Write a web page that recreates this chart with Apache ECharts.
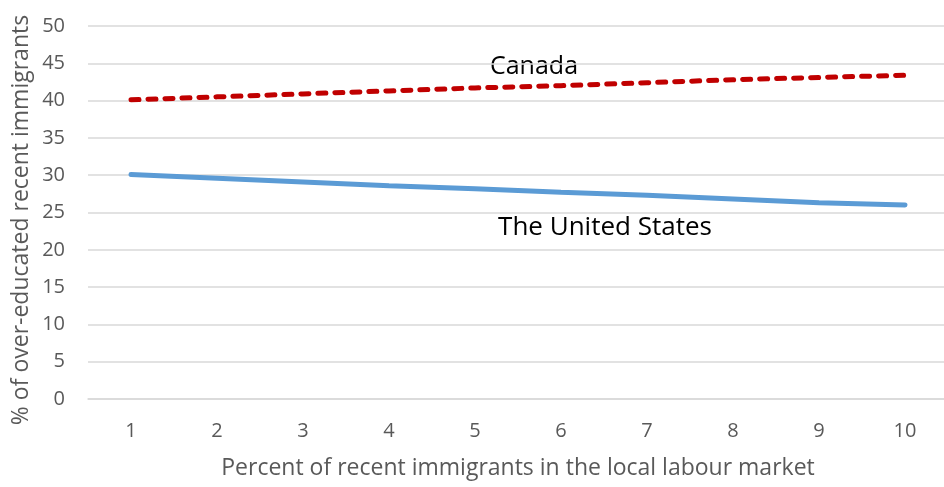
<!DOCTYPE html>
<html><head><meta charset="utf-8">
<script src="https://cdn.jsdelivr.net/npm/echarts@6/dist/echarts.min.js"></script>
<style>html,body{margin:0;padding:0;background:#fff}#c{width:944px;height:487px}</style>
</head><body><div id="c"></div>
<script>
const categories = ['1','2','3','4','5','6','7','8','9','10'];
const canada = [40.1, 40.5, 40.9, 41.3, 41.7, 42.0, 42.4, 42.8, 43.1, 43.4];
const unitedStates = [30.1, 29.6, 29.1, 28.6, 28.2, 27.7, 27.3, 26.8, 26.3, 26.0];
const yTicks = [0, 50, 5];
const xTitle = 'Percent of recent immigrants in the local labour market';
const yTitle = '% of over-educated recent immigrants';

const FONT = '"Open Sans", sans-serif';
const chart = echarts.init(document.getElementById('c'), null, {renderer: 'canvas'});
chart.setOption({
  animation: false,
  grid: {left: 88, right: -4, top: 26, bottom: 88, outerBoundsMode: 'none', containLabel: false},
  xAxis: {
    type: 'category', data: categories, boundaryGap: true,
    axisLine: {lineStyle: {color: '#d9d9d9', width: 1.5}},
    axisTick: {show: false},
    axisLabel: {color: '#595959', fontSize: 20, fontFamily: FONT, margin: 22},
    name: xTitle, nameLocation: 'middle', nameGap: 58,
    nameTextStyle: {color: '#595959', fontSize: 23, fontFamily: FONT}
  },
  yAxis: {
    type: 'value', min: yTicks[0], max: yTicks[1], interval: yTicks[2],
    axisLine: {show: false}, axisTick: {show: false},
    splitLine: {lineStyle: {color: '#d9d9d9', width: 1.5}},
    axisLabel: {color: '#595959', fontSize: 20, fontFamily: FONT, margin: 23}
  },
  series: [
    {type: 'line', data: canada, symbol: 'none', smooth: false,
     lineStyle: {color: '#c00000', width: 5, type: [8, 9], cap: 'round'}},
    {type: 'line', data: unitedStates, symbol: 'none',
     lineStyle: {color: '#5b9bd5', width: 5, cap: 'round'}}
  ],
  graphic: [
    {type: 'text', x: 21, y: 220, rotation: Math.PI / 2,
     style: {text: yTitle, fill: '#595959', font: '23px ' + FONT, textAlign: 'center', textVerticalAlign: 'middle'}},
    {type: 'text', x: 534, y: 67, style: {text: 'Canada', fill: '#000', font: '25px ' + FONT, textAlign: 'center', textVerticalAlign: 'middle'}},
    {type: 'text', x: 605, y: 228, style: {text: 'The United States', fill: '#000', font: '26px ' + FONT, textAlign: 'center', textVerticalAlign: 'middle'}}
  ]
});
</script></body></html>
